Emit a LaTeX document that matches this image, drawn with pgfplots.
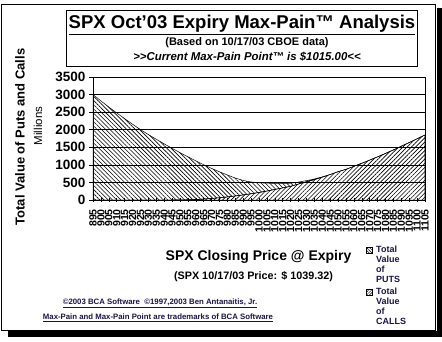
\documentclass[border=0pt]{standalone}
\usepackage{pgfplots}
\pgfplotsset{compat=1.18}
\usepackage{pgfplotstable}
\usepackage{fontspec}
\setmainfont{Liberation Sans}
\usetikzlibrary{patterns.meta}
\definecolor{navytxt}{RGB}{25,20,70}

\pgfplotstableread{
i strike calls puts
0 895 0 3000
1 900 0 2820
2 905 0 2645
3 910 0 2477
4 915 0 2315
5 920 0 2157
6 925 0 2003
7 930 0 1863
8 935 0 1728
9 940 0 1598
10 945 0 1470
11 950 3 1345
12 955 8 1221
13 960 16 1099
14 965 28 975
15 970 44 855
16 975 64 738
17 980 88 623
18 985 115 510
19 990 145 410
20 995 178 335
21 1000 215 275
22 1005 255 223
23 1010 300 173
24 1015 345 125
25 1020 390 88
26 1025 455 55
27 1030 515 35
28 1035 580 17
29 1040 650 6
30 1045 725 0
31 1050 805 0
32 1055 873 0
33 1060 958 0
34 1065 1045 0
35 1070 1135 0
36 1075 1228 0
37 1080 1325 0
38 1085 1425 0
39 1090 1530 0
40 1095 1635 0
41 1100 1742 0
42 1105 1850 0
}\data

\begin{document}
\begin{tikzpicture}
\useasboundingbox (0pt,0pt) rectangle (442pt,-342pt);
% frame and shadow
\fill[black] (437pt,-8pt) rectangle (442pt,-337pt);
\fill[black] (8pt,-331pt) rectangle (442pt,-337pt);
\draw[line width=0.8pt] (1.5pt,-4pt) rectangle (435.5pt,-330.5pt);

\begin{axis}[
  at={(93pt,-200pt)}, anchor=south west,
  scale only axis, width=332pt, height=123pt,
  xmin=0, xmax=42, ymin=0, ymax=3500,
  ytick={0,500,...,3500},
  xtick={0,...,42},
  xticklabels={895,900,905,910,915,920,925,930,935,940,945,950,955,960,965,970,975,980,985,990,995,1000,1005,1010,1015,1020,1025,1030,1035,1040,1045,1050,1055,1060,1065,1070,1075,1080,1085,1090,1095,1100,1105},
  x tick label style={rotate=90, anchor=east, font=\bfseries\fontsize{10.5}{10.5}\selectfont, inner sep=0pt},
  xticklabel shift=7pt,
  y tick label style={font=\bfseries\fontsize{13.5}{14}\selectfont},
  /pgf/number format/assume math mode=true,
  /pgf/number format/1000 sep={},
  ymajorgrids, grid style={black, line width=0.7pt},
  axis line style={black, line width=0.8pt},
  major tick length=4pt,
  xtick style={black, line width=0.5pt},
  ytick style={black, line width=0.6pt},
  xtick align=center, ytick align=outside,
  tick pos=left,
  stack plots=y,
  clip=false,
]
\addplot[draw=black, line width=0.5pt, pattern={Lines[angle=45,distance=3pt,line width=0.6pt]}] table[x=i,y=calls]{\data} \closedcycle;
\addplot[draw=black, line width=0.5pt, pattern={Lines[angle=-45,distance=3pt,line width=0.6pt]}] table[x=i,y=puts]{\data} \closedcycle;
\end{axis}

% title box
\draw[line width=0.8pt] (66.5pt,-10pt) rectangle (417pt,-66pt);
\node[font=\bfseries\fontsize{18.5}{18.5}\selectfont, inner sep=0pt] at (242pt,-25pt) {\underline{SPX Oct'03 Expiry Max-Pain™ Analysis}};
\node[font=\bfseries\fontsize{11}{11}\selectfont, inner sep=0pt] at (247pt,-43pt) {(Based on 10/17/03 CBOE data)};
\node[font=\bfseries\itshape\fontsize{11.4}{11.4}\selectfont, inner sep=0pt] at (247pt,-57pt) {>{}>Current Max-Pain Point™ is \$1015.00<{}<};

% y axis labels
\node[rotate=90, font=\bfseries\fontsize{13}{13}\selectfont, inner sep=0pt] at (20pt,-137pt) {Total Value of Puts and Calls};
\node[rotate=90, font=\fontsize{11.5}{12}\selectfont, inner sep=0pt] at (38pt,-126pt) {Millions};

% x axis labels
\node[font=\bfseries\fontsize{14}{14}\selectfont, inner sep=0pt] at (258.5pt,-257pt) {SPX Closing Price @ Expiry};
\node[font=\bfseries\fontsize{10.8}{11}\selectfont, inner sep=0pt] at (253.5pt,-277pt) {(SPX 10/17/03 Price: \$ 1039.32)};

% footnotes
\node[font=\bfseries\fontsize{7.8}{8}\selectfont, text=navytxt, inner sep=0pt] at (160pt,-303pt) {\underline{©2003 BCA Software\ \ ©1997,2003 Ben Antanaitis, Jr.}};
\node[font=\bfseries\fontsize{7.8}{8}\selectfont, text=navytxt, inner sep=0pt] at (158pt,-318pt) {\underline{Max-Pain and Max-Pain Point are trademarks of BCA Software}};

% legend
\draw[line width=0.5pt, pattern={Lines[angle=-45,distance=2pt,line width=0.5pt]}] (366pt,-247pt) rectangle (372pt,-253pt);
\node[font=\bfseries\fontsize{9}{10}\selectfont, text=navytxt, anchor=north west, align=left, inner sep=0pt] at (376pt,-245.5pt) {Total\\Value\\of\\PUTS};
\draw[line width=0.5pt, pattern={Lines[angle=45,distance=2pt,line width=0.5pt]}] (366pt,-289pt) rectangle (372pt,-295pt);
\node[font=\bfseries\fontsize{9}{10}\selectfont, text=navytxt, anchor=north west, align=left, inner sep=0pt] at (376pt,-287.5pt) {Total\\Value\\of\\CALLS};
\end{tikzpicture}
\end{document}
